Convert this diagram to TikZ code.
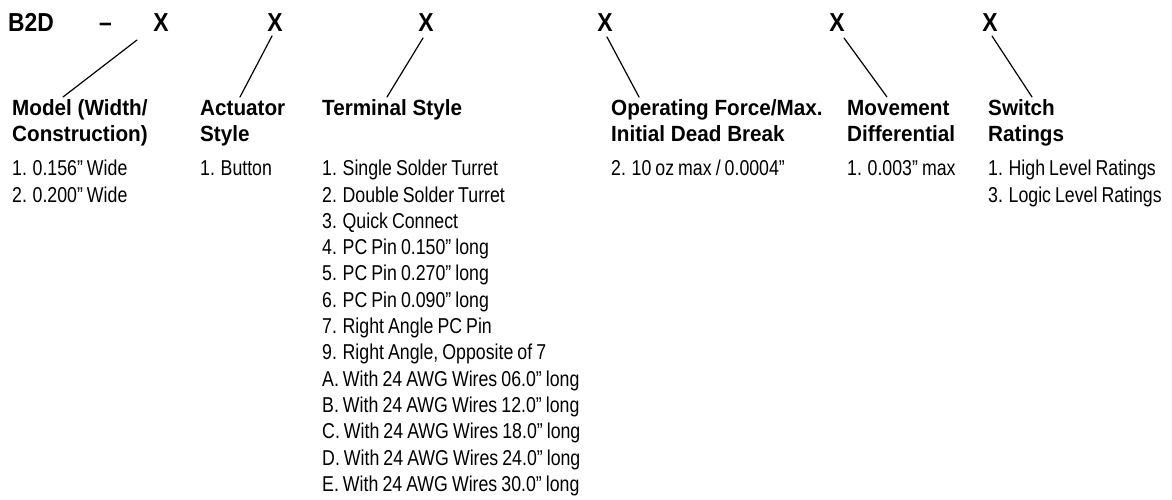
\documentclass[tikz,border=0pt]{standalone}
\usepackage{fontspec}
\setmainfont{Liberation Sans}[FakeStretch=0.825,WordSpace=0.82]
\newfontfamily\headfont{Liberation Sans}[FakeStretch=0.94]
\newfontfamily\topfont{Liberation Sans}[FakeStretch=0.88]
\tikzset{
  codetxt/.style={font=\topfont\bfseries\fontsize{26}{30}\selectfont, inner sep=0pt, anchor=base},
  headtxt/.style={font=\headfont\bfseries\fontsize{22}{26}\selectfont, inner sep=0pt, anchor=base west},
  itemtxt/.style={font=\fontsize{21.5}{26.3}\selectfont, inner sep=0pt, anchor=base west},
  leader/.style={line width=1.2pt, line cap=round}
}
\begin{document}
\begin{tikzpicture}[x=1pt,y=-1pt]
\useasboundingbox (0,0) rectangle (1172,499);
% code row
\node[codetxt, anchor=base west] (b2d) at (8,31.5) {B2D};
\node[codetxt, anchor=base west] (dash) at (99,31.5) {–};
\node[codetxt] (x1) at (161,31.5) {X};
\node[codetxt] (x2) at (275,31.5) {X};
\node[codetxt] (x3) at (426,31.5) {X};
\node[codetxt] (x4) at (605,31.5) {X};
\node[codetxt] (x5) at (837,31.5) {X};
\node[codetxt] (x6) at (990,31.5) {X};
% headings
\node[headtxt] (h1a) at (12,115) {Model (Width/};
\node[headtxt] (h1b) at (12,141.5) {Construction)};
\node[headtxt] (h2a) at (200,115) {Actuator};
\node[headtxt] (h2b) at (200,141.5) {Style};
\node[headtxt] (h3a) at (322,115) {Terminal Style};
\node[headtxt] (h4a) at (611,115) {Operating Force/Max.};
\node[headtxt] (h4b) at (611,141.5) {Initial Dead Break};
\node[headtxt] (h5a) at (847,115) {Movement};
\node[headtxt] (h5b) at (847,141.5) {Differential};
\node[headtxt] (h6a) at (988,115) {Switch};
\node[headtxt] (h6b) at (988,141.5) {Ratings};
% leader lines
\coordinate (a1) at (137,40);  \coordinate (e1) at (63,97);
\coordinate (a2) at (272,36);  \coordinate (e2) at (240,97);
\coordinate (a3) at (423,38);  \coordinate (e3) at (387,97);
\coordinate (a4) at (607,37);  \coordinate (e4) at (639,97);
\coordinate (a5) at (844,38);  \coordinate (e5) at (887,97);
\coordinate (a6) at (992,36);  \coordinate (e6) at (1032,97);
\foreach \k in {1,...,6} \draw[leader] (a\k) -- (e\k);
% items
\foreach \t [count=\i from 0] in {1. 0.156” Wide, 2. 0.200” Wide}
  \node[itemtxt] (c1-\i) at (12,{175.7+26.3*\i}) {\t};
\node[itemtxt] (c2-0) at (200,175.7) {1. Button};
\foreach \t [count=\i from 0] in {1. Single Solder Turret, 2. Double Solder Turret, 3. Quick Connect, 4. PC Pin 0.150” long, 5. PC Pin 0.270” long, 6. PC Pin 0.090” long, 7. Right Angle PC Pin, {9. Right Angle, Opposite of 7}, A. With 24 AWG Wires 06.0” long, B. With 24 AWG Wires 12.0” long, C. With 24 AWG Wires 18.0” long, D. With 24 AWG Wires 24.0” long, E. With 24 AWG Wires 30.0” long}
  \node[itemtxt] (c3-\i) at (322,{175.7+26.3*\i}) {\t};
\node[itemtxt] (c4-0) at (611,175.7) {2. 10 oz max / 0.0004”};
\node[itemtxt] (c5-0) at (847,175.7) {1. 0.003” max};
\foreach \t [count=\i from 0] in {1. High Level Ratings, 3. Logic Level Ratings}
  \node[itemtxt] (c6-\i) at (988,{175.7+26.3*\i}) {\t};
\end{tikzpicture}
\end{document}
